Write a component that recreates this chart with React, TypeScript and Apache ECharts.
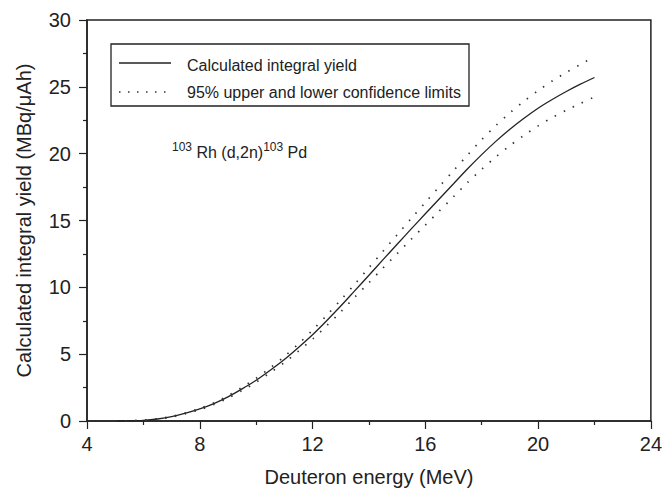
import React, { useEffect, useRef } from "react";
import * as echarts from "echarts";

const energy = [5, 5.5, 6, 6.5, 7, 7.5, 8, 8.5, 9, 9.5, 10, 10.5, 11, 11.5, 12, 12.5, 13, 13.5, 14, 14.5, 15, 15.5, 16, 16.5, 17, 17.5, 18, 18.5, 19, 19.5, 20, 20.5, 21, 21.5, 22];
const yieldCalc = [0, 0.01, 0.05, 0.15, 0.32, 0.58, 0.9, 1.3, 1.8, 2.4, 3.05, 3.8, 4.6, 5.5, 6.45, 7.5, 8.6, 9.75, 10.9, 12.07, 13.22, 14.37, 15.5, 16.63, 17.75, 18.87, 19.93, 20.92, 21.83, 22.65, 23.4, 24.05, 24.65, 25.2, 25.7];
const yieldUpper = [0, 0.01, 0.05, 0.16, 0.34, 0.61, 0.95, 1.37, 1.89, 2.52, 3.2, 3.98, 4.83, 5.77, 6.8, 7.9, 9.05, 10.25, 11.47, 12.7, 13.93, 15.15, 16.35, 17.55, 18.73, 19.9, 21.05, 22.1, 23.05, 23.92, 24.72, 25.43, 26.08, 26.68, 27.25];
const yieldLower = [0, 0.01, 0.05, 0.14, 0.3, 0.55, 0.85, 1.23, 1.71, 2.28, 2.9, 3.62, 4.37, 5.23, 6.12, 7.12, 8.17, 9.27, 10.35, 11.45, 12.52, 13.6, 14.65, 15.72, 16.78, 17.85, 18.83, 19.75, 20.6, 21.37, 22.08, 22.7, 23.25, 23.75, 24.25];
const xTicks = { min: 4, max: 24, interval: 4 };
const yTicks = { min: 0, max: 30, interval: 5 };

const pairs = (ys: number[]) => energy.map((x, i) => [x, ys[i]]);

export default function App() {
  const ref = useRef<HTMLDivElement>(null);
  useEffect(() => {
    if (!ref.current) return;
    const chart = echarts.init(ref.current, undefined, { renderer: "svg" });
    const font = "Liberation Sans, Arial, sans-serif";
    const ink = "#222";
    const axisCommon = {
      axisLine: { show: true, lineStyle: { color: ink, width: 1.5 } },
      axisTick: { show: true, inside: false, length: 8, lineStyle: { color: ink, width: 1.2 } },
      minorTick: { show: true, splitNumber: 2, length: 4, lineStyle: { color: ink, width: 1.2 } },
      splitLine: { show: false },
      axisLabel: { color: ink, fontSize: 20, fontFamily: font, margin: 13 },
      nameTextStyle: { color: ink, fontSize: 20, fontFamily: font },
    };
    chart.setOption({
      animation: false,
      backgroundColor: "#fff",
      grid: { left: 87, right: 13, top: 20, bottom: 70, show: true, borderColor: ink, borderWidth: 1.5 },
      xAxis: {
        type: "value",
        ...xTicks,
        name: "Deuteron energy (MeV)",
        nameLocation: "middle",
        nameGap: 46,
        ...axisCommon,
      },
      yAxis: {
        type: "value",
        ...yTicks,
        name: "Calculated integral yield (MBq/\u03bcAh)",
        nameLocation: "middle",
        nameGap: 53,
        ...axisCommon,
        axisLabel: { ...axisCommon.axisLabel, margin: 16 },
      },
      series: [
        {
          type: "line",
          name: "Calculated integral yield",
          data: pairs(yieldCalc),
          showSymbol: false,
          smooth: 0.3,
          lineStyle: { color: ink, width: 1.3 },
        },
        {
          type: "line",
          name: "upper",
          data: pairs(yieldUpper),
          showSymbol: false,
          smooth: 0.3,
          lineStyle: { color: "#333", width: 1.7, type: [1.5, 8.5] },
        },
        {
          type: "line",
          name: "lower",
          data: pairs(yieldLower),
          showSymbol: false,
          smooth: 0.3,
          lineStyle: { color: "#333", width: 1.7, type: [1.5, 8.5] },
        },
      ],
      graphic: [
        {
          type: "rect",
          shape: { x: 111, y: 44, width: 358, height: 62 },
          style: { fill: "#fff", stroke: ink, lineWidth: 1.3 },
          z: 10,
        },
        {
          type: "line",
          shape: { x1: 119, y1: 63, x2: 171, y2: 63 },
          style: { stroke: ink, lineWidth: 1.3 },
          z: 11,
        },
        {
          type: "line",
          shape: { x1: 119, y1: 92, x2: 171, y2: 92 },
          style: { stroke: "#333", lineWidth: 1.7, lineDash: [1.5, 7.5] },
          z: 11,
        },
        {
          type: "text",
          x: 187,
          y: 65,
          style: { text: "Calculated integral yield", fill: ink, font: `16px ${font}`, verticalAlign: "middle" },
          z: 11,
        },
        {
          type: "text",
          x: 187,
          y: 92,
          style: { text: "95% upper and lower confidence limits", fill: ink, font: `16px ${font}`, verticalAlign: "middle" },
          z: 11,
        },
        {
          type: "text",
          x: 172,
          y: 152,
          style: {
            text: "{sup|103}{n| Rh (d,2n)}{sup|103}{n| Pd}",
            verticalAlign: "middle",
            rich: {
              sup: { fontSize: 12, fontFamily: font, fill: ink, verticalAlign: "top", padding: [0, 0, 10, 0] },
              n: { fontSize: 16, fontFamily: font, fill: ink },
            },
          },
          z: 11,
        },
      ],
    });
    return () => chart.dispose();
  }, []);
  return <div ref={ref} style={{ position: "absolute", left: 0, top: 0, width: 665, height: 492 }} />;
}
